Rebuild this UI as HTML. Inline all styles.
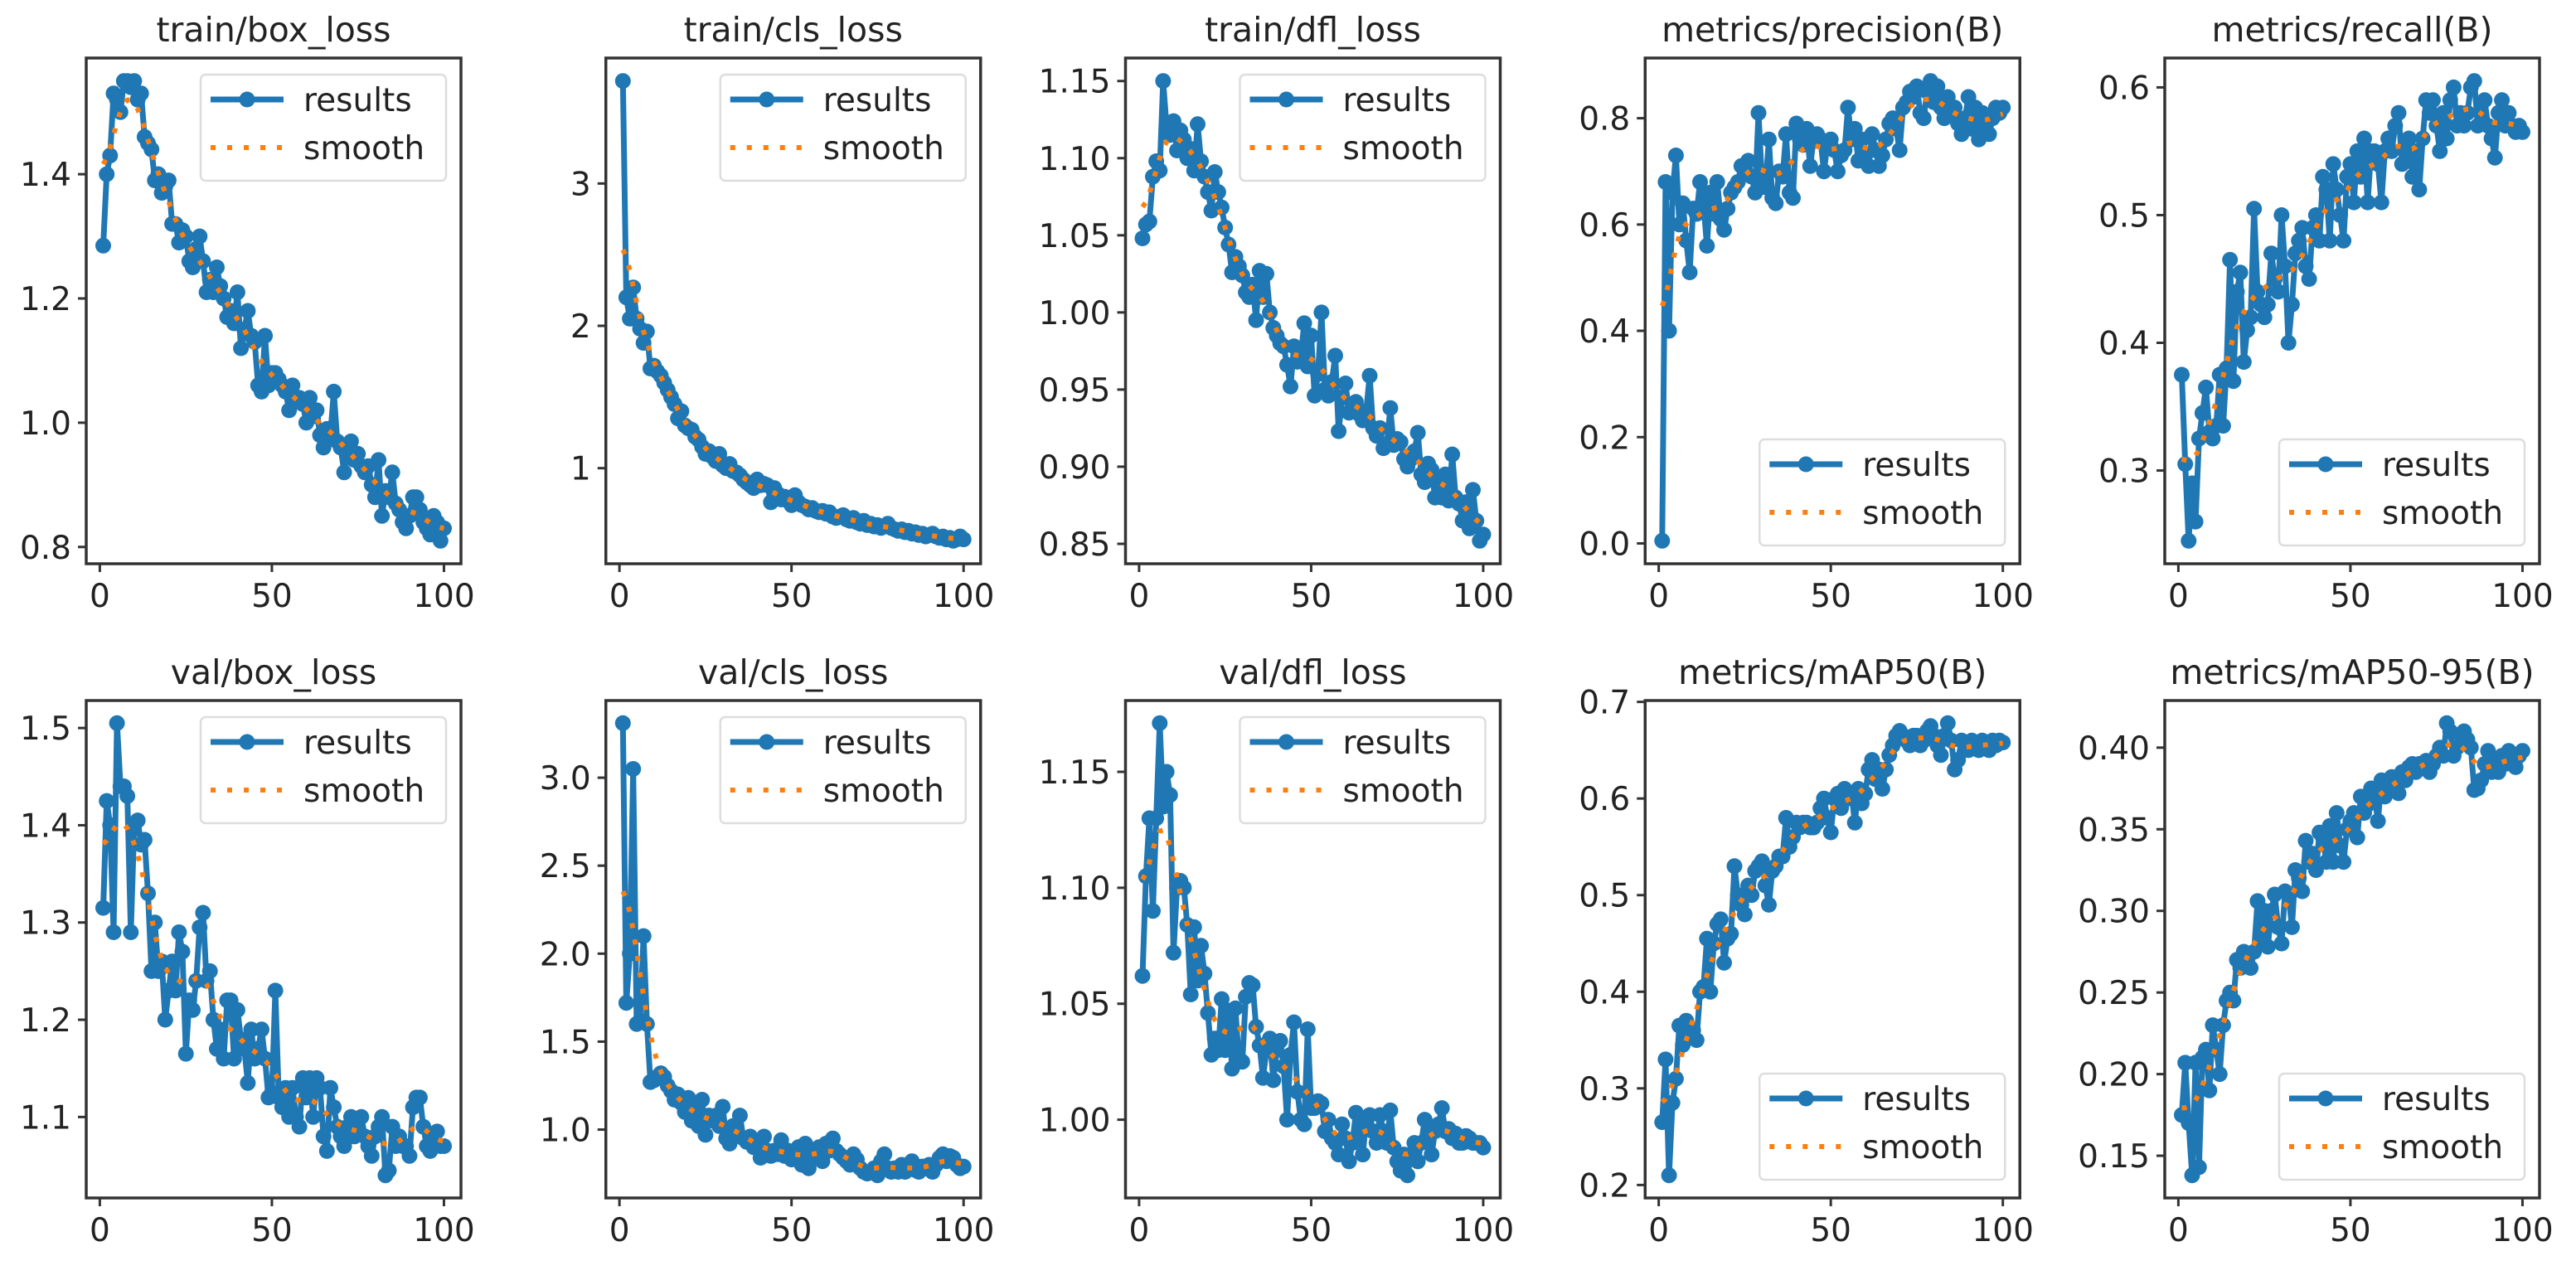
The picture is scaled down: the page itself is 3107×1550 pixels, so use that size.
<!DOCTYPE html>
<html><head><meta charset="utf-8"><style>
html,body{margin:0;padding:0;background:#fff}
svg{display:block}
text{font-family:"DejaVu Sans","Liberation Sans",sans-serif;fill:#222}
</style></head><body>
<svg id="fig" width="3107" height="1550" viewBox="0 0 3107 1550" xmlns="http://www.w3.org/2000/svg"></svg>
<script>
const titles=["train/box_loss","train/cls_loss","train/dfl_loss","metrics/precision(B)","metrics/recall(B)","val/box_loss","val/cls_loss","val/dfl_loss","metrics/mAP50(B)","metrics/mAP50-95(B)"];
const yTicks=[[0.8,1.0,1.2,1.4],[1,2,3],[0.85,0.90,0.95,1.00,1.05,1.10,1.15],[0.0,0.2,0.4,0.6,0.8],[0.3,0.4,0.5,0.6],[1.1,1.2,1.3,1.4,1.5],[1.0,1.5,2.0,2.5,3.0],[1.00,1.05,1.10,1.15],[0.2,0.3,0.4,0.5,0.6,0.7],[0.15,0.20,0.25,0.30,0.35,0.40]];
const yTickLabels=[["0.8","1.0","1.2","1.4"],["1","2","3"],["0.85","0.90","0.95","1.00","1.05","1.10","1.15"],["0.0","0.2","0.4","0.6","0.8"],["0.3","0.4","0.5","0.6"],["1.1","1.2","1.3","1.4","1.5"],["1.0","1.5","2.0","2.5","3.0"],["1.00","1.05","1.10","1.15"],["0.2","0.3","0.4","0.5","0.6","0.7"],["0.15","0.20","0.25","0.30","0.35","0.40"]];
const xTicks=[0,50,100];
const legendLower=[false,false,false,true,true,false,false,false,true,true];
const trainBox=[1.285,1.40,1.43,1.53,1.52,1.50,1.55,1.55,1.54,1.55,1.52,1.53,1.46,1.45,1.44,1.39,1.40,1.37,1.38,1.39,1.32,1.32,1.29,1.31,1.30,1.26,1.25,1.28,1.30,1.26,1.21,1.23,1.21,1.25,1.22,1.20,1.17,1.18,1.16,1.21,1.12,1.15,1.18,1.14,1.13,1.06,1.05,1.14,1.06,1.08,1.08,1.07,1.06,1.05,1.02,1.06,1.04,1.04,1.03,1.00,1.04,1.01,1.02,0.98,0.96,0.99,0.98,1.05,0.97,0.96,0.92,0.95,0.97,0.94,0.95,0.93,0.92,0.93,0.90,0.88,0.94,0.85,0.89,0.88,0.92,0.87,0.86,0.84,0.83,0.85,0.88,0.88,0.86,0.84,0.83,0.82,0.85,0.84,0.81,0.83];
const trainCls=[3.72,2.20,2.05,2.27,2.05,1.98,1.88,1.96,1.70,1.72,1.68,1.65,1.60,1.55,1.50,1.45,1.35,1.40,1.30,1.28,1.27,1.22,1.20,1.15,1.10,1.12,1.08,1.05,1.10,1.02,1.00,1.03,0.98,0.97,0.95,0.92,0.90,0.88,0.86,0.92,0.88,0.89,0.88,0.76,0.86,0.82,0.78,0.80,0.77,0.74,0.81,0.76,0.74,0.73,0.71,0.72,0.70,0.69,0.70,0.68,0.69,0.66,0.65,0.66,0.67,0.64,0.63,0.65,0.62,0.61,0.63,0.60,0.61,0.59,0.60,0.58,0.59,0.61,0.58,0.57,0.56,0.57,0.55,0.56,0.54,0.55,0.53,0.54,0.52,0.53,0.54,0.52,0.51,0.52,0.50,0.51,0.49,0.50,0.52,0.50];
const trainDfl=[1.048,1.057,1.059,1.088,1.098,1.092,1.150,1.120,1.115,1.124,1.105,1.118,1.112,1.100,1.106,1.092,1.122,1.098,1.088,1.078,1.066,1.091,1.078,1.068,1.055,1.044,1.026,1.036,1.030,1.024,1.013,1.010,1.018,0.995,1.027,1.010,1.025,1.000,0.990,0.985,0.980,0.978,0.966,0.952,0.978,0.968,0.972,0.993,0.965,0.985,0.946,0.960,1.000,0.950,0.946,0.955,0.972,0.923,0.945,0.954,0.935,0.940,0.942,0.934,0.930,0.936,0.959,0.925,0.920,0.925,0.912,0.914,0.938,0.914,0.918,0.916,0.905,0.900,0.905,0.910,0.922,0.895,0.890,0.902,0.898,0.880,0.892,0.880,0.895,0.878,0.908,0.880,0.876,0.865,0.877,0.860,0.885,0.865,0.852,0.856];
const precision=[0.005,0.68,0.40,0.66,0.73,0.60,0.64,0.57,0.51,0.63,0.62,0.68,0.64,0.56,0.66,0.62,0.68,0.61,0.59,0.63,0.66,0.67,0.68,0.71,0.70,0.72,0.69,0.66,0.81,0.68,0.67,0.76,0.65,0.64,0.70,0.69,0.77,0.66,0.65,0.79,0.76,0.75,0.78,0.71,0.76,0.77,0.76,0.70,0.75,0.76,0.74,0.70,0.73,0.74,0.82,0.76,0.78,0.72,0.76,0.73,0.71,0.77,0.74,0.71,0.73,0.76,0.79,0.80,0.78,0.74,0.82,0.83,0.85,0.84,0.86,0.81,0.80,0.85,0.87,0.83,0.86,0.82,0.80,0.84,0.81,0.82,0.79,0.77,0.80,0.84,0.78,0.82,0.76,0.81,0.79,0.77,0.80,0.82,0.81,0.82];
const recall=[0.375,0.305,0.245,0.29,0.26,0.325,0.345,0.365,0.33,0.325,0.335,0.375,0.335,0.38,0.465,0.37,0.44,0.455,0.385,0.41,0.42,0.505,0.44,0.43,0.42,0.43,0.47,0.45,0.44,0.50,0.46,0.40,0.43,0.47,0.48,0.49,0.46,0.45,0.49,0.50,0.48,0.53,0.52,0.48,0.54,0.52,0.50,0.48,0.53,0.54,0.51,0.55,0.53,0.56,0.51,0.55,0.55,0.54,0.51,0.55,0.56,0.55,0.57,0.58,0.54,0.55,0.56,0.53,0.55,0.52,0.56,0.59,0.58,0.59,0.57,0.55,0.58,0.56,0.59,0.60,0.57,0.58,0.57,0.58,0.60,0.605,0.57,0.58,0.59,0.57,0.56,0.545,0.58,0.59,0.57,0.58,0.57,0.565,0.57,0.565];
const valBox=[1.315,1.425,1.40,1.29,1.505,1.44,1.44,1.43,1.29,1.40,1.405,1.38,1.385,1.33,1.25,1.30,1.25,1.26,1.20,1.23,1.26,1.23,1.29,1.27,1.165,1.22,1.21,1.24,1.295,1.31,1.24,1.25,1.20,1.17,1.19,1.16,1.22,1.22,1.16,1.21,1.18,1.17,1.135,1.19,1.16,1.17,1.19,1.16,1.12,1.125,1.23,1.12,1.11,1.13,1.10,1.13,1.10,1.09,1.14,1.12,1.14,1.10,1.14,1.13,1.08,1.065,1.13,1.11,1.09,1.08,1.07,1.09,1.10,1.08,1.09,1.10,1.08,1.07,1.06,1.08,1.09,1.10,1.04,1.045,1.09,1.07,1.08,1.07,1.07,1.06,1.11,1.12,1.12,1.09,1.07,1.065,1.08,1.085,1.07,1.07];
const valCls=[3.31,1.72,2.00,3.05,1.60,1.62,2.10,1.60,1.27,1.28,1.30,1.32,1.30,1.25,1.22,1.17,1.20,1.15,1.10,1.18,1.05,1.12,1.02,1.17,0.97,1.08,1.05,1.08,1.02,1.13,0.95,0.92,1.02,0.98,1.08,0.95,0.93,0.96,0.90,0.92,0.84,0.96,0.88,0.85,0.88,0.86,0.94,0.85,0.88,0.83,0.84,0.90,0.80,0.92,0.78,0.88,0.84,0.90,0.82,0.92,0.88,0.95,0.88,0.86,0.84,0.82,0.80,0.86,0.83,0.78,0.76,0.75,0.76,0.78,0.74,0.82,0.86,0.78,0.76,0.78,0.76,0.80,0.76,0.78,0.82,0.77,0.76,0.79,0.78,0.80,0.76,0.80,0.84,0.86,0.82,0.85,0.84,0.80,0.78,0.79];
const valDfl=[1.062,1.105,1.130,1.090,1.130,1.171,1.135,1.150,1.140,1.072,1.100,1.103,1.100,1.084,1.054,1.083,1.060,1.075,1.063,1.046,1.028,1.035,1.030,1.052,1.030,1.047,1.022,1.048,1.025,1.025,1.053,1.059,1.058,1.040,1.032,1.018,1.030,1.035,1.017,1.030,1.034,1.023,1.000,1.028,1.042,1.012,1.000,0.998,1.039,1.005,1.005,1.008,1.007,0.995,1.000,0.992,0.990,0.985,0.998,0.992,0.982,0.990,1.003,0.996,0.985,1.000,1.002,0.995,0.990,1.002,0.995,0.990,1.004,0.988,0.982,0.978,0.985,0.976,0.985,0.990,0.982,0.990,1.000,0.995,0.985,0.995,0.998,1.005,0.995,0.996,0.992,0.994,0.990,0.990,0.993,0.992,0.990,0.990,0.990,0.988];
const map50=[0.265,0.33,0.21,0.285,0.31,0.365,0.345,0.37,0.355,0.36,0.35,0.40,0.405,0.455,0.40,0.45,0.47,0.475,0.43,0.455,0.46,0.53,0.50,0.49,0.48,0.51,0.50,0.525,0.53,0.535,0.51,0.49,0.525,0.53,0.54,0.54,0.58,0.55,0.56,0.575,0.57,0.575,0.575,0.57,0.57,0.575,0.59,0.60,0.58,0.565,0.60,0.605,0.59,0.61,0.60,0.605,0.575,0.61,0.595,0.605,0.63,0.64,0.62,0.63,0.61,0.63,0.645,0.655,0.665,0.67,0.665,0.66,0.655,0.665,0.665,0.655,0.66,0.67,0.675,0.665,0.655,0.645,0.665,0.678,0.66,0.63,0.64,0.66,0.655,0.65,0.66,0.655,0.65,0.66,0.655,0.65,0.66,0.655,0.66,0.658];
const map5095=[0.175,0.207,0.17,0.138,0.207,0.143,0.21,0.215,0.19,0.23,0.215,0.20,0.23,0.245,0.25,0.245,0.27,0.265,0.275,0.27,0.265,0.275,0.306,0.28,0.30,0.278,0.30,0.31,0.29,0.28,0.312,0.31,0.29,0.325,0.32,0.312,0.343,0.33,0.335,0.325,0.348,0.345,0.33,0.352,0.33,0.36,0.34,0.33,0.35,0.355,0.36,0.345,0.37,0.36,0.365,0.375,0.37,0.355,0.38,0.37,0.38,0.382,0.375,0.372,0.385,0.38,0.388,0.39,0.385,0.39,0.388,0.392,0.385,0.39,0.395,0.40,0.395,0.415,0.41,0.395,0.40,0.408,0.41,0.405,0.40,0.374,0.375,0.38,0.39,0.398,0.385,0.39,0.385,0.395,0.39,0.398,0.392,0.388,0.395,0.398];
const series=[trainBox,trainCls,trainDfl,precision,recall,valBox,valCls,valDfl,map50,map5095];

const NS="http://www.w3.org/2000/svg";
const svg=document.getElementById('fig');
function mk(tag,attrs,parent){const e=document.createElementNS(NS,tag);for(const k in attrs)e.setAttribute(k,attrs[k]);(parent||svg).appendChild(e);return e;}
function gauss(y,s){const r=Math.ceil(4*s),w=[];let sum=0;for(let i=-r;i<=r;i++){const v=Math.exp(-i*i/(2*s*s));w.push(v);sum+=v;}
 const n=y.length,out=[];for(let i=0;i<n;i++){let a=0;for(let k=-r;k<=r;k++){let j=i+k;while(j<0||j>=n){if(j<0)j=-j-1;if(j>=n)j=2*n-j-1;}a+=y[j]*w[k+r];}out.push(a/sum);}return out;}

const colW=452, colStep=626.75, left0=104;
const rowTop=[70,845], rowH=[610,600];
for(let p=0;p<10;p++){
 const col=p%5,row=Math.floor(p/5);
 const L=left0+col*colStep,T=rowTop[row],H=rowH[row],W=colW;
 const ys=series[p],n=ys.length;
 const g=mk('g',{});
 
 
 const xmin=1,xmax=n,xr=xmax-xmin,x0=xmin-0.05*xr,x1=xmax+0.05*xr;
 const ymn=Math.min(...ys),ymx=Math.max(...ys),yr=ymx-ymn,y0=ymn-0.05*yr,y1=ymx+0.05*yr;
 const sx=v=>L+(v-x0)/(x1-x0)*W, sy=v=>T+H-(v-y0)/(y1-y0)*H;
 const t=mk('text',{x:L+W/2,y:T-20,'text-anchor':'middle','font-size':41},g);t.textContent=titles[p];
 
 
 const clipId='c'+p;const cp=mk('clipPath',{id:clipId},g);mk('rect',{x:L,y:T,width:W,height:H},cp);
 const sm=gauss(ys,3);
 const pts=ys.map((v,i)=>sx(i+1).toFixed(1)+','+sy(v).toFixed(1)).join(' ');
 const line=mk('polyline',{points:pts,fill:'none',stroke:'#1f77b4','stroke-width':7,'stroke-linejoin':'round','clip-path':`url(#${clipId})`},g);
 
 
 const mg=mk('g',{fill:'#1f77b4','clip-path':`url(#${clipId})`},g);
 
 
 ys.forEach((v,i)=>{mk('circle',{cx:sx(i+1).toFixed(1),cy:sy(v).toFixed(1),r:9.5},mg);});
 const spts=sm.map((v,i)=>sx(i+1).toFixed(1)+','+sy(v).toFixed(1)).join(' ');
 const sl=mk('polyline',{points:spts,fill:'none',stroke:'#ff7f0e','stroke-width':6,'stroke-dasharray':'6 14','stroke-linecap':'butt'},g);
 
 
 const ax=mk('rect',{x:L,y:T,width:W,height:H,fill:'none',stroke:'#333','stroke-width':3.5},g);
 
 
 yTicks[p].forEach((v,i)=>{const y=sy(v);mk('line',{x1:L-10,x2:L,y1:y,y2:y,stroke:'#333','stroke-width':3},g);
  const tl=mk('text',{x:L-18,y:y+14,'text-anchor':'end','font-size':39},g);tl.textContent=yTickLabels[p][i];
  
  });
 xTicks.forEach(v=>{const x=sx(v);mk('line',{x1:x,x2:x,y1:T+H,y2:T+H+10,stroke:'#333','stroke-width':3},g);
  const tl=mk('text',{x:x,y:T+H+52,'text-anchor':'middle','font-size':39},g);tl.textContent=String(v);
  
  });
 const lw=296,lh=128,lx=L+W-lw-18,ly=legendLower[p]?T+H-lh-22:T+20;
 const lg=mk('g',{},g);
 
 
 mk('rect',{x:lx,y:ly,width:lw,height:lh,rx:6,fill:'#fff','fill-opacity':0.8,stroke:'#ddd','stroke-width':2.5},lg);
 mk('line',{x1:lx+12,x2:lx+100,y1:ly+30,y2:ly+30,stroke:'#1f77b4','stroke-width':7},lg);
 mk('circle',{cx:lx+56,cy:ly+30,r:9.5,fill:'#1f77b4'},lg);
 mk('line',{x1:lx+12,x2:lx+100,y1:ly+88,y2:ly+88,stroke:'#ff7f0e','stroke-width':6,'stroke-dasharray':'6 14'},lg);
 const a=mk('text',{x:lx+124,y:ly+44,'font-size':39},lg);a.textContent='results';
 
 
 const b=mk('text',{x:lx+124,y:ly+102,'font-size':39},lg);b.textContent='smooth';
 
 
}
</script>
</body></html>
